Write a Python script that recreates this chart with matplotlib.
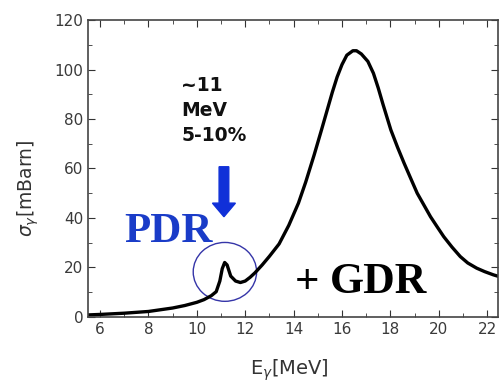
import matplotlib.pyplot as plt
from matplotlib.patches import Ellipse, FancyArrow
from matplotlib.ticker import MultipleLocator

# Photoabsorption cross section
energy = [5.5, 6.0, 7.0, 8.0, 9.0, 9.5, 10.0, 10.3, 10.6, 10.8, 10.95, 11.05,
          11.15, 11.25, 11.4, 11.6, 11.8, 12.0, 12.2, 12.4, 12.7, 13.0, 13.4,
          13.8, 14.2, 14.5, 14.85, 15.15, 15.4, 15.6, 15.8, 16.0, 16.2, 16.45,
          16.6, 16.8, 17.07, 17.3, 17.5, 17.7, 18.02, 18.3, 18.57, 18.85,
          19.11, 19.4, 19.66, 19.95, 20.21, 20.55, 20.89, 21.2, 21.57, 21.9,
          22.26, 22.5]
sigma = [0.8, 1.0, 1.5, 2.2, 3.6, 4.6, 5.9, 7.0, 8.6, 10.2, 14.5, 19.5,
         22.0, 21.0, 16.5, 14.5, 13.9, 14.5, 16.0, 17.8, 21.0, 24.5, 29.5,
         37.0, 46.0, 54.5, 65.5, 75.5, 84.0, 90.8, 97.0, 102.0, 105.8, 107.6,
         107.6, 106.3, 103.3, 98.5, 92.5, 85.8, 75.6, 68.5, 62.1, 55.8,
         50.0, 45.0, 40.5, 36.2, 32.4, 28.2, 24.4, 21.8, 19.7, 18.3,
         17.0, 16.3]

pdr_center = (11.16, 18.2)
arrow_x, arrow_top, arrow_tip = 11.12, 60.7, 40.5

fig = plt.figure(figsize=(5, 3.86), dpi=100)
ax = fig.add_axes([0.176, 0.179, 0.82, 0.769])

ax.plot(energy, sigma, color='black', lw=2.4)

# PDR circle
ax.add_patch(Ellipse(pdr_center, 2.62, 23.8, fill=False, edgecolor='#3535a8', lw=1.0))

# blue arrow
ax.add_patch(FancyArrow(arrow_x, arrow_top, 0, arrow_tip - arrow_top, width=0.4,
                        head_width=0.95, head_length=5.5, length_includes_head=True,
                        color='#1030d8'))

ax.text(9.36, 97.5, "~11\nMeV\n5-10%", fontsize=13.5, fontweight='bold',
        va='top', ha='left', linespacing=1.42, color='#111111')
ax.text(7.0, 30.3, "PDR", fontsize=31, fontweight='bold', family='Liberation Serif',
        color='#1a3cc8', va='baseline')
ax.text(14.05, 9.7, "+", fontsize=31, fontweight='bold', family='Liberation Serif',
        color='black', va='baseline')
ax.text(15.5, 9.7, "GDR", fontsize=31.5, fontweight='bold', family='Liberation Serif',
        color='black', va='baseline')

ax.set_xlim(5.5, 22.45)
ax.set_ylim(0, 120)
ax.xaxis.set_major_locator(MultipleLocator(2))
ax.xaxis.set_minor_locator(MultipleLocator(1))
ax.yaxis.set_major_locator(MultipleLocator(20))
ax.yaxis.set_minor_locator(MultipleLocator(10))
ax.tick_params(which='both', direction='in', top=True, right=True,
               labelsize=11, labelcolor='#3a3a3a', color='#333333')
ax.tick_params(which='major', length=5)
ax.tick_params(which='minor', length=3)
for s in ax.spines.values():
    s.set_color('#444444')
    s.set_linewidth(1.2)

ax.set_xlabel(r"E$_\gamma$[MeV]", fontsize=14, color='#333333')
ax.set_ylabel(r"$\sigma_\gamma$[mBarn]", fontsize=13.5, color='#333333')
ax.xaxis.set_label_coords(0.49, -0.18, transform=ax.transAxes)
ax.yaxis.set_label_coords(-0.146, 0.434, transform=ax.transAxes)
ax.xaxis.label.set_va('center')
ax.yaxis.label.set_va('center')

fig.savefig("out.png", dpi=100)
